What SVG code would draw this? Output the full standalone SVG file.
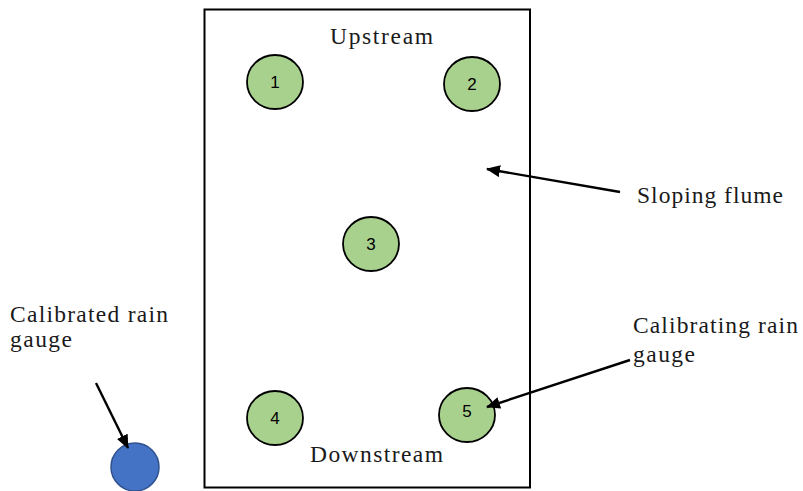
<svg xmlns="http://www.w3.org/2000/svg" width="803" height="491" viewBox="0 0 803 491">
<style>
.lbl{font-family:"Liberation Serif","Times New Roman",serif;font-size:23.5px;fill:#1a1a1a}
.num{font-family:"Liberation Sans",Arial,sans-serif;font-size:17px;fill:#000;text-anchor:middle}
.g{fill:#A9D18E;stroke:#000;stroke-width:1.8}
.conn{stroke:#000;stroke-width:2.4;fill:none;marker-end:url(#ah)}
</style>
<defs>
<marker id="ah" markerWidth="14" markerHeight="12" refX="13" refY="6" orient="auto" markerUnits="userSpaceOnUse" viewBox="0 0 14 12">
<path d="M0,0 L14,6 L0,12 Z" fill="#000"/>
</marker>
</defs>
<rect width="803" height="491" fill="#fff"/>
<g id="flume">
<rect x="204.5" y="9.5" width="325.5" height="478" fill="none" stroke="#000" stroke-width="2"/>
<text class="lbl" x="330" y="44" textLength="103" lengthAdjust="spacing">Upstream</text>
<text class="lbl" x="310" y="462" textLength="133" lengthAdjust="spacing">Downstream</text>
</g>
<g id="g1"><ellipse class="g" cx="275" cy="82" rx="28" ry="27"/><text class="num" x="275" y="88">1</text></g>
<g id="g2"><ellipse class="g" cx="472" cy="84" rx="28" ry="27"/><text class="num" x="472" y="90">2</text></g>
<g id="g3"><ellipse class="g" cx="371" cy="244" rx="28" ry="27"/><text class="num" x="371" y="250">3</text></g>
<g id="g4"><ellipse class="g" cx="275" cy="418" rx="28" ry="27"/><text class="num" x="275" y="424">4</text></g>
<g id="g5"><ellipse class="g" cx="467" cy="415" rx="28" ry="27"/><text class="num" x="467" y="417">5</text></g>
<g id="calibrated">
<circle cx="135" cy="467" r="24" fill="#4472C4" stroke="#2F528F" stroke-width="1.5"/>
<text class="lbl" x="10" y="322" textLength="158" lengthAdjust="spacing">Calibrated rain</text>
<text class="lbl" x="10" y="347" textLength="62" lengthAdjust="spacing">gauge</text>
</g>
<g id="label-flume"><text class="lbl" x="637" y="203" textLength="146" lengthAdjust="spacing">Sloping flume</text></g>
<g id="label-calibrating">
<text class="lbl" x="633" y="333" textLength="165" lengthAdjust="spacing">Calibrating rain</text>
<text class="lbl" x="633" y="362" textLength="62" lengthAdjust="spacing">gauge</text>
</g>
<g id="connectors">
<line class="conn" x1="620" y1="192" x2="487" y2="169"/>
<line class="conn" x1="96" y1="383" x2="128" y2="448"/>
<line class="conn" x1="630" y1="360" x2="487" y2="407"/>
</g>
</svg>
